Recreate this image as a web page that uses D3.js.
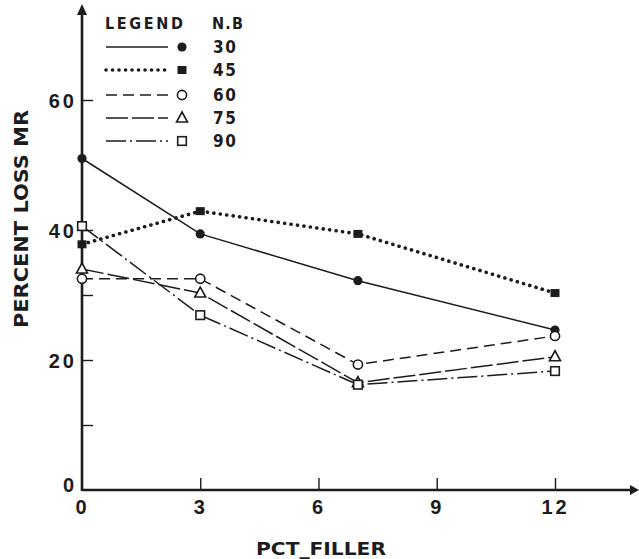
<!DOCTYPE html>
<html>
<head>
<meta charset="utf-8">
<script src="https://cdn.jsdelivr.net/npm/d3@7"></script>
<style>
  html, body { margin: 0; padding: 0; background: #fff; }
  svg { display: block; }
  text { font-family: "DejaVu Sans Condensed", "DejaVu Sans", "Liberation Sans", sans-serif; font-weight: bold; fill: #1c1c1c; }
</style>
</head>
<body>
<svg id="chart" width="639" height="559"></svg>
<script>
// Filler percentage on the horizontal axis
const fillerPct = [0, 3, 7, 12];
// Percent loss MR, one array per N.B value
const nb30 = [51.0, 39.4, 32.2, 24.6];
const nb45 = [37.8, 42.9, 39.4, 30.3];
const nb60 = [32.5, 32.5, 19.3, 23.7];
const nb75 = [34.0, 30.3, 16.5, 20.5];
const nb90 = [40.6, 26.9, 16.2, 18.3];

const nbLabels = ["30", "45", "60", "75", "90"];
const xTicks = [0, 3, 6, 9, 12];
const yTicks = [0, 10, 20, 30, 40, 60];
const yTickLabels = { 0: "0", 20: "20", 40: "40", 60: "60" };

const ink = "#1c1c1c";
const svg = d3.select("#chart");

const x = d3.scaleLinear().domain([0, 12]).range([82, 555]);
const y = d3.scaleLinear().domain([0, 60]).range([490, 100]);

// Axes: ticks point into the plot area
const xAxis = d3.axisBottom(x).tickValues(xTicks).tickSizeInner(-12).tickSizeOuter(0).tickPadding(10)
  .tickFormat(d => d);
const yAxis = d3.axisLeft(y).tickValues(yTicks).tickSizeInner(-11).tickSizeOuter(0).tickPadding(5)
  .tickFormat(d => yTickLabels[d] || "");

const gx = svg.append("g").attr("transform", `translate(0,${y(0)})`).call(xAxis);
const gy = svg.append("g").attr("transform", `translate(${x(0)},0)`).call(yAxis);
[gx, gy].forEach(g => {
  g.select(".domain").remove();
  g.selectAll(".tick line").attr("stroke", ink).attr("stroke-width", 1.4);
  g.selectAll(".tick text").style("font-size", "20px").style("letter-spacing", "3px")
    .style("font-family", "inherit").attr("fill", ink);
});
gy.selectAll(".tick").filter(d => d === 0).select("line").remove();
gx.selectAll(".tick").filter(d => d === 0).select("line").remove();
gy.selectAll(".tick text").attr("dy", "0.36em");
gy.selectAll(".tick").filter(d => d === 0).select("text").attr("dy", "0.05em");

// Axis lines with arrowheads
svg.append("line").attr("x1", x(0)).attr("y1", y(0)).attr("x2", 630).attr("y2", y(0))
  .attr("stroke", ink).attr("stroke-width", 2.6);
svg.append("path").attr("d", `M630,${y(0) - 5} L639,${y(0)} L630,${y(0) + 5} Z`).attr("fill", ink);
svg.append("line").attr("x1", x(0)).attr("y1", y(0) + 1).attr("x2", x(0)).attr("y2", 14)
  .attr("stroke", ink).attr("stroke-width", 2.6);
svg.append("path").attr("d", `M${x(0) - 5},15 L${x(0)},4 L${x(0) + 5},15 Z`).attr("fill", ink);

// Axis titles
svg.append("text").attr("x", 256).attr("y", 555)
  .attr("textLength", 130).attr("lengthAdjust", "spacingAndGlyphs")
  .style("font-size", "18px").text("PCT_FILLER");
svg.append("text").attr("transform", "translate(28,328) rotate(-90)")
  .attr("textLength", 218).attr("lengthAdjust", "spacingAndGlyphs")
  .style("font-size", "19px").text("PERCENT LOSS MR");

// Series definitions
const series = [
  { label: nbLabels[0], values: nb30, dash: null, width: 1.5, marker: "dot" },
  { label: nbLabels[1], values: nb45, dash: "0.1 6.4", width: 3.6, cap: "round", marker: "filledSquare" },
  { label: nbLabels[2], values: nb60, dash: "11 6", width: 1.5, marker: "ring" },
  { label: nbLabels[3], values: nb75, dash: "22 4", width: 1.5, marker: "triangle" },
  { label: nbLabels[4], values: nb90, dash: "20 4 2 4", width: 1.5, marker: "square" }
];

const line = d3.line().x(d => x(d[0])).y(d => y(d[1]));

function drawMarker(g, type, cx, cy) {
  if (type === "dot") {
    g.append("circle").attr("cx", cx).attr("cy", cy).attr("r", 4.6).attr("fill", ink);
  } else if (type === "filledSquare") {
    g.append("rect").attr("x", cx - 4.5).attr("y", cy - 4).attr("width", 9).attr("height", 8).attr("fill", ink);
  } else if (type === "ring") {
    g.append("circle").attr("cx", cx).attr("cy", cy).attr("r", 4.6)
      .attr("fill", "#fff").attr("stroke", ink).attr("stroke-width", 1.6);
  } else if (type === "triangle") {
    g.append("path").attr("d", `M${cx},${cy - 6} L${cx + 5.5},${cy + 4} L${cx - 5.5},${cy + 4} Z`)
      .attr("fill", "#fff").attr("stroke", ink).attr("stroke-width", 1.6);
  } else if (type === "square") {
    g.append("rect").attr("x", cx - 4.3).attr("y", cy - 4.3).attr("width", 8.6).attr("height", 8.6)
      .attr("fill", "#fff").attr("stroke", ink).attr("stroke-width", 1.6);
  }
}

const plot = svg.append("g");
series.forEach(s => {
  const pts = fillerPct.map((f, i) => [f, s.values[i]]);
  plot.append("path").datum(pts).attr("d", line).attr("fill", "none")
    .attr("stroke", ink).attr("stroke-width", s.width)
    .attr("stroke-dasharray", s.dash).attr("stroke-linecap", s.cap || "butt");
});
series.forEach(s => {
  fillerPct.forEach((f, i) => drawMarker(plot, s.marker, x(f), y(s.values[i])));
});

// Legend
const legend = svg.append("g");
legend.append("text").attr("x", 105).attr("y", 29).attr("textLength", 78).attr("lengthAdjust", "spacing")
  .style("font-size", "16px").text("LEGEND");
legend.append("text").attr("x", 212).attr("y", 29).attr("textLength", 31).attr("lengthAdjust", "spacing")
  .style("font-size", "16px").text("N.B");
const rowY = [47, 70, 95, 118, 141];
series.forEach((s, i) => {
  legend.append("line").attr("x1", 106).attr("x2", 168).attr("y1", rowY[i]).attr("y2", rowY[i])
    .attr("stroke", ink).attr("stroke-width", s.width)
    .attr("stroke-dasharray", s.dash).attr("stroke-linecap", s.cap || "butt");
  drawMarker(legend, s.marker, 182, rowY[i]);
  legend.append("text").attr("x", 213).attr("y", rowY[i] + 6).attr("textLength", 23).attr("lengthAdjust", "spacing")
    .style("font-size", "17px").text(s.label);
});
</script>
</body>
</html>
